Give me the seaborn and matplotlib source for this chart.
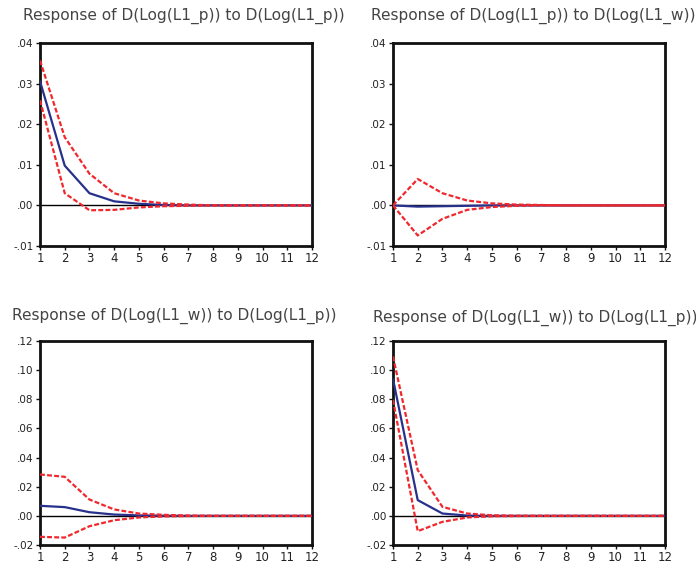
import numpy as np
import pandas as pd
import seaborn as sns
import matplotlib.pyplot as plt

periods = list(range(1, 13))

titles = [
    "Response of D(Log(L1_p)) to D(Log(L1_p))",
    "Response of D(Log(L1_p)) to D(Log(L1_w))",
    "Response of D(Log(L1_w)) to D(Log(L1_p))",
    "Response of D(Log(L1_w)) to D(Log(L1_p))",
]

pp_mean = [0.0306, 0.0098, 0.0030, 0.0010, 0.0004, 0.0001, 0, 0, 0, 0, 0, 0]
pp_upper = [0.0357, 0.0168, 0.0078, 0.0030, 0.0012, 0.0005, 0.0002, 0, 0, 0, 0, 0]
pp_lower = [0.0259, 0.0030, -0.0012, -0.0011, -0.0005, -0.0002, -0.0001, 0, 0, 0, 0, 0]

pw_mean = [0.0, -0.0003, -0.0002, -0.0001, 0, 0, 0, 0, 0, 0, 0, 0]
pw_upper = [0.0, 0.0065, 0.0030, 0.0012, 0.0005, 0.0002, 0.0001, 0, 0, 0, 0, 0]
pw_lower = [0.0, -0.0074, -0.0033, -0.0011, -0.0004, -0.0001, 0, 0, 0, 0, 0, 0]

wp_mean = [0.0069, 0.0060, 0.0025, 0.0009, 0.0003, 0.0001, 0, 0, 0, 0, 0, 0]
wp_upper = [0.0284, 0.0268, 0.0112, 0.0044, 0.0016, 0.0007, 0.0002, 0, 0, 0, 0, 0]
wp_lower = [-0.0144, -0.0149, -0.0071, -0.0030, -0.0011, -0.0004, -0.0001, 0, 0, 0, 0, 0]

ww_mean = [0.0940, 0.0108, 0.0016, 0.0002, 0, 0, 0, 0, 0, 0, 0, 0]
ww_upper = [0.1094, 0.0314, 0.0062, 0.0016, 0.0004, 0.0001, 0, 0, 0, 0, 0, 0]
ww_lower = [0.0796, -0.0105, -0.0041, -0.0011, -0.0003, -0.0001, 0, 0, 0, 0, 0, 0]

panels = [
    (pp_mean, pp_upper, pp_lower),
    (pw_mean, pw_upper, pw_lower),
    (wp_mean, wp_upper, wp_lower),
    (ww_mean, ww_upper, ww_lower),
]

yticks_top = [-0.01, 0.00, 0.01, 0.02, 0.03, 0.04]
yticks_bot = [-0.02, 0.00, 0.02, 0.04, 0.06, 0.08, 0.10, 0.12]
ylims = [(-0.01, 0.04), (-0.01, 0.04), (-0.02, 0.12), (-0.02, 0.12)]
yticks = [yticks_top, yticks_top, yticks_bot, yticks_bot]

sns.set_style("white")
plt.rcParams['font.family'] = ['DejaVu Sans']

fig = plt.figure(figsize=(6.96, 5.65), dpi=100)
W, H = 696, 565
# axes boxes in pixel coords: left, top, right, bottom
boxes = [(40, 43, 312, 246), (393, 43, 665, 246), (40, 341, 312, 545), (393, 341, 665, 545)]
title_pos = [(23, 16), (371, 16), (12, 316), (373, 318)]

navy = "#27318C"
red = "#F0282D"

for i, (box, (m, u, l)) in enumerate(zip(boxes, panels)):
    x0, y0, x1, y1 = box
    ax = fig.add_axes([x0 / W, 1 - y1 / H, (x1 - x0) / W, (y1 - y0) / H])
    df = pd.DataFrame({
        "period": periods * 3,
        "value": list(m) + list(u) + list(l),
        "series": ["mean"] * 12 + ["upper"] * 12 + ["lower"] * 12,
    })
    ax.axhline(0, color="black", lw=1.0, zorder=1)
    sns.lineplot(data=df[df.series == "mean"], x="period", y="value", ax=ax,
                 color=navy, lw=1.6, zorder=3)
    for s in ["upper", "lower"]:
        sns.lineplot(data=df[df.series == s], x="period", y="value", ax=ax,
                     color=red, lw=1.6, linestyle=(0, (2.2, 1.0)), zorder=4)
    ax.set_xlim(1, 12)
    ax.set_ylim(*ylims[i])
    ax.set_xticks(periods)
    ax.set_xticklabels([str(p) for p in periods])
    ax.set_yticks(yticks[i])
    ax.set_yticklabels([("-" if v < 0 else "") + ("%.2f" % abs(v)).lstrip("0") for v in yticks[i]])
    ax.set_xlabel("")
    ax.set_ylabel("")
    for sp in ax.spines.values():
        sp.set_linewidth(2.0)
        sp.set_color("#111111")
        sp.set_visible(True)
    ax.tick_params(axis="both", which="both", direction="out", length=3, width=1,
                   color="#111111", labelsize=7.5, pad=1.5, labelcolor="#222222",
                   left=True, bottom=True)
    ax.tick_params(axis="x", labelsize=8.5)
    tx, ty = title_pos[i]
    fig.text(tx / W, 1 - ty / H, titles[i], fontsize=11.1, color="#444444",
             ha="left", va="center")

fig.savefig("out.png", dpi=100)
